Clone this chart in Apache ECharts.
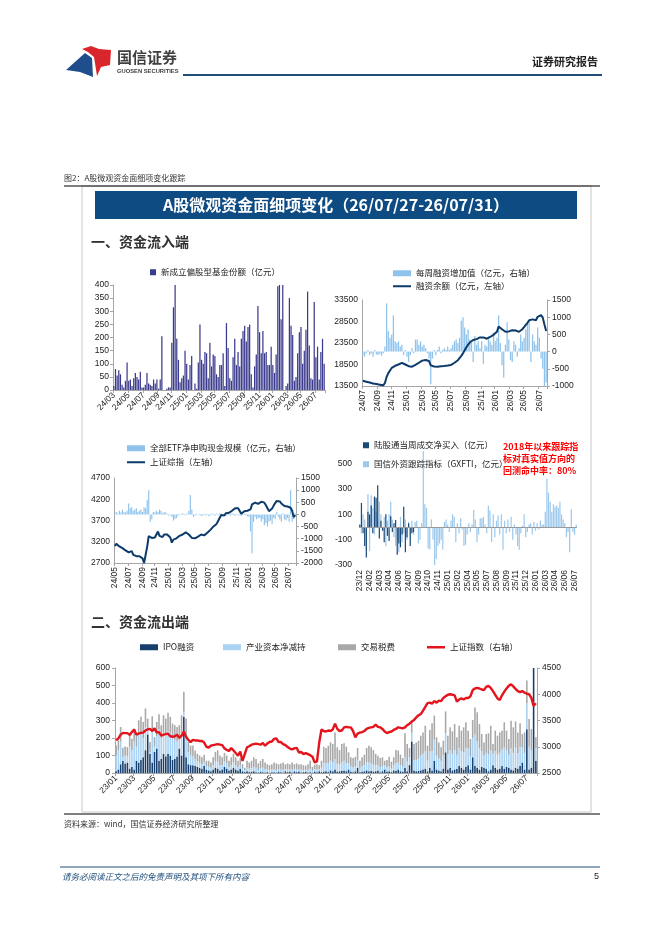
<!DOCTYPE html>
<html>
<head>
<meta charset="utf-8">
<script src="https://cdn.jsdelivr.net/npm/echarts@6/dist/echarts.min.js"></script>
<style>
html, body { margin: 0; padding: 0; background: #fff; }
#main { width: 662px; height: 936px; }
</style>
</head>
<body>
<div id="main"></div>
<script>
// ---------- 数据 ----------
// 新成立偏股型基金份额（亿元），周度，自 2024-03-01
var fundStart = '2024-03-01';
var fundTicks = ['24/03','24/05','24/07','24/09','24/11','25/01','25/03','25/05','25/07','25/09','25/11','26/01','26/03','26/05','26/07'];
var fundNew = [15,80,55,75,60,20,10,35,105, 35,40,15,45,65,50,40,70,10, 10,20,65,25,20,15,40,25,40,
  5,40,205,0,0,5,10,10, 180,315,400,195,115,30,45,55,150, 100,40,95,130,0,25,5,105,250,
  115,100,145,140,45,180,90,135, 130,60,50,95,95,140,15,255,160, 45,35,125,195,95,145,90,195,225,
  245,185,240,250,60,10,90,135,320, 220,140,225,140,145,95,95,165, 95,65,135,395,400,270,400,0,15,
  25,350,245,210,35,50,140,220, 240,100,150,230,375,170,45,40,335, 125,165,40,145,195,100];

// 融资：每周融资增加值（右轴）与融资余额（左轴），周度，自 2024-07-05
var marginStart = '2024-07-05';
var marginTicks = ['24/07','24/09','24/11','25/01','25/03','25/05','25/07','25/09','25/11','26/01','26/03','26/05','26/07'];
var marginChg = [-100,-150,-50,50,-100,-50,-150,50,-80,-100,-60,-120,-50,
  150,1400,600,400,500,1050,300,250,300,150,
  200,-100,50,-150,-300,-100,100,-50,350,350,
  200,300,150,200,100,-50,-200,-950,-200,50,
  -100,50,150,-50,50,100,50,150,50,100,
  200,300,350,250,400,900,1000,700,500,650,
  350,250,-300,450,200,300,100,300,-350,200,
  150,400,300,200,550,300,400,1050,250,-400,
  -750,200,850,350,-250,-300,300,200,-150,100,
  500,300,400,650,800,900,-300,500,300,200,
  700,400,-200,-500,-1000,-900];
var marginBal = [14700,14650,14500,14400,14300,14250,14100,14000,13950,13850,13800,13700,13650,
  14200,15600,16500,17100,17700,18100,18200,18300,18500,18700,
  18900,18800,18500,18200,18100,18050,18000,18200,18400,18600,
  18900,19200,19400,19500,19550,19500,19300,18300,18100,18050,
  18000,18000,18050,18100,18150,18150,18200,18250,18300,18400,
  18600,18900,19200,19500,19900,20500,21100,21800,22500,23100,
  23600,23900,24200,24300,24400,24600,24800,24850,24800,24700,
  24500,24700,24900,25100,25400,25700,26100,27300,27100,26700,
  26400,26100,25900,26200,26500,26450,26400,26400,26250,26100,
  26400,26700,27200,27700,28200,28800,28950,29000,28900,28800,
  29600,30000,30000,29400,27800,26300];

// 全部ETF净申购现金规模（亿元，右轴），周度，自 2024-05-03
var etfStart = '2024-05-03';
var etfTicks = ['24/05','24/07','24/09','24/11','25/01','25/03','25/05','25/07','25/09','25/11','26/01','26/03','26/05','26/07'];
var etfFlow = [50,100,30,150,80,200,100,80,150,
  450,250,300,150,200,250,100,150,200,
  100,300,250,600,1000,
  -300,-200,100,80,150,100,200,150,
  50,100,80,30,-50,20,-100,-250,-200,
  -150,-50,30,-20,50,-30,20,40,
  150,800,200,-100,-50,30,-30,20,-60,
  -40,30,-50,20,-80,-30,40,-20,-50,30,
  -30,50,-40,-20,30,-60,-30,20,-40,50,
  -30,-50,20,-40,30,-60,-20,40,-30,-80,
  -100,-700,-1600,-300,-100,-200,-150,
  -150,-300,-200,-450,-350,-500,-300,-250,-400,-150,-200,100,-100,-200,
  -300,50,-200,-250,-150,-300,1000,-300,-200,50];

// 上证指数，周度，自 2023-01-06
var outStart = '2023-01-06';
var shIndex = [3120,3160,3230,3265, 3260,3260,3225,3280, 3330,3230,3250,3265,3270, 3310,3330,3340,3300,
  3350,3270,3280,3210, 3230,3240,3250,3200,3190, 3200,3230,3170,3210, 3290,3190,3130,3090,
  3130,3120,3120,3110,3110, 3080,3000,2985,3020, 3030,3040,3050,3040, 3030,2970,2940,2920,2975,
  2930,2880,2830,2910, 2730,2860,2990,3010, 3040,3050,3060,3050,3040, 3070,3020,3060,3090,
  3100,3150,3160,3090,3090, 3050,3030,2995,2965, 2950,2970,2980,2890, 2900,2860,2880,2860,2840,
  2810,2700,2720,3080,
  3330,3300,3290,3310,3300,3330,3440,3340,3300,3310,
  3370,3380,3370,3370,3300,3180,3250,3270,3280,3300,
  3340,3360,3370,3380,3420,3380,3370,3340,3290,3260,
  3280,3290,3320,3340,3370,3360,3350,3370,3410,3440,
  3480,3510,3560,3600,3620,3690,3760,3830,3840,3820,
  3870,3840,3880,3870,3930,3960,3990,4000,3990,3980,
  3860,3900,3920,3900,3930,3930,3960,4080,4110,4120,
  4110,4090,4080,4140,4160,4120,4060,3990,3920,3890,
  3980,4050,4110,4160,4190,4150,4100,4060,4040,4060,
  4030,4010,4000,3930,3780,3830];

// 陆股通当周成交净买入 与 国信外资跟踪指标（GXFTI），周度，自 2023-12-01
var gxStart = '2023-12-01';
var gxTicks = ['23/12','24/02','24/03','24/04','24/06','24/07','24/09','24/10','24/11','25/01','25/02','25/04','25/05','25/07','25/08','25/09','25/11','25/12','26/01','26/03','26/04','26/06','26/07'];
var hkNet = [20,190,-50,-150,-240,120,100,170,-50,240,230,330,-90,50,-30,-120,100,-70,-110,85,
  -40,30,55,-220,-130,-160,-60,160,-200,-80,30,-150,-50,-40];
var gxfti = [10,-50,100,60,-180,260,-190,250,150,-60,
  120,60,200,100,-30,80,-150,50,100,200,
  60,-80,-150,-100,-200,80,-120,-50,60,-100,
  40,-80,50,-60,40,50,-130,-100,30,600,
  180,150,-170,-175,60,-100,-300,-250,-150,-130,
  -100,-180,40,60,20,-40,50,100,80,-120,
  30,-50,70,-20,-150,-140,-60,30,-40,20,
  135,60,-120,-60,70,70,80,20,-50,170,
  130,-120,100,-80,50,90,-60,100,-180,50,
  -50,60,-40,80,-100,20,-60,-150,-180,-50,
  10,100,-80,-40,20,30,-60,40,-30,30,
  -20,50,20,20,120,380,270,200,120,180,
  160,170,150,200,100,60,30,-80,-40,-200,
  140,-40,-60,20];

// 资金流出端：IPO融资、产业资本净减持、交易税费（亿元），周度，自 2023-01-06
var outTicks = ['23/01','23/03','23/05','23/07','23/09','23/11','24/01','24/03','24/05','24/07','24/09','24/11','25/01','25/03','25/05','25/07','25/09','25/11','26/01','26/03','26/05','26/07'];
var ipoAmt = [10,20,50,70,55,60,25,35,20,70,60,75,90,130,220,110,60,120,140,70,80,110,95,110,100,75,80,95,140,100,320,90,50,45,
  45,40,35,30,25,40,20,15,10, 20,30,25,15,20,35,25,15,20, 30,20,15,25,10,5,10,5,8, 10,5,3,8,5,3,5,2,5,
  5,3,8,5,3,10,5,8,3, 10,5,8,3,5,8,3,5, 3,8,5,10,
  5,8,10,5,15,10,20,8,10,12, 15,10,20,8,5,10,30,5,8,10, 15,10,12,8,10,15,5,10,20,8,
  10,5,15,12,20,10,8,30,10,45, 180,15,10,12,15,20,25,10,30,15, 70,20,15,10,25,118,20,30,15,20,
  25,40,30,20,35,45,20,90,40,30, 20,35,30,25,10,20,45,30,20,25, 40,25,35,30,20,15,30,25,40,60,
  20,250,20,30,600,70];
var indSell = [90,110,130,20,45,35,125,95,160,80,160,155,110,130,30,10,180,30,70,180,120,120,125,130,130,125,110,85,50,130,30,130,70,55,
  50,40,30,30,25,25,20,20,20, 25,35,40,30,25,30,30,20,25, 30,25,20,20,15,10,20,20,20, 25,25,15,20,25,20,15,15,15,
  15,15,12,15,15,12,15,12,15, 12,15,12,15,12,10,15,20, 10,12,15,12,
  25,50,45,50,55,50,60,45,40,50, 55,45,35,30,30,30,45,25,30,35, 45,50,45,40,35,30,28,30,25,25,
  30,22,30,45,40,35,30,60,55,45, 50,60,65,70,85,90,100,60,95,110, 120,80,70,60,75,110,90,100,95,110,
  80,105,95,100,110,95,75,110,180,150, 120,90,70,90,95,110,65,95,85,90, 95,120,95,75,120,100,115,90,110,85,
  95,150,130,100,80,70];
var taxFee = [57,56,83,54,52,53,71,66,73,65,81,91,92,109,61,57,84,55,82,86,73,100,91,104,91,82,83,83,83,100,115,91,57,57,
  62,49,45,40,40,40,30,35,30, 45,55,65,55,45,50,45,35,45, 50,45,35,40,25,15,40,35,42, 55,50,37,42,50,37,30,28,30,
  40,37,30,35,42,28,35,30,42, 28,35,28,32,28,24,32,45, 23,28,30,23,
  40,92,88,101,105,106,152,94,81,104, 100,95,63,52,51,53,68,40,52,60, 83,96,90,83,64,54,53,50,25,41,
  53,38,45,74,68,60,48,137,101,53, 60,91,100,103,113,122,145,86,121,159, 138,104,90,77,85,124,103,131,128,150,
  99,125,117,141,145,102,99,103,155,167, 140,98,75,108,122,140,56,117,108,117, 107,145,112,89,159,146,150,117,134,78,
  117,128,159,121,90,64];

// ---------- 工具 ----------
function weeks(start, n) {
  var t0 = Date.parse(start + 'T00:00:00Z'), out = [];
  for (var i = 0; i < n; i++) {
    out.push(new Date(t0 + i * 7 * 864e5).toISOString().slice(0, 10));
  }
  return out;
}
function ym(v) { return v.slice(2, 4) + '/' + v.slice(5, 7); }
function monthPicker(cats, ticks) {
  return function (idx, val) {
    var m = ym(val);
    return ticks.indexOf(m) >= 0 && (idx === 0 || ym(cats[idx - 1]) !== m);
  };
}

var FONT = "'Liberation Sans','Noto Sans CJK SC',sans-serif";
var CJK = "'Noto Sans CJK SC','Liberation Sans',sans-serif";
var GRAY = '#a6a6a6';
var LBL = { fontSize: 8.5, color: '#222', fontFamily: FONT };
function plain(v) { return String(v); }

function catAxis(grid, cats, ticks, rotate) {
  var pick = monthPicker(cats, ticks);
  return {
    gridIndex: grid, type: 'category', data: cats, boundaryGap: true,
    axisLine: { show: true, onZero: false, lineStyle: { color: GRAY } },
    axisTick: { show: true, interval: pick, length: 3, lineStyle: { color: GRAY } },
    axisLabel: Object.assign({}, LBL, { interval: pick, rotate: rotate, margin: 4, formatter: ym })
  };
}
function valAxis(grid, min, max, step, pos, extra) {
  return Object.assign({
    gridIndex: grid, type: 'value', min: min, max: max, interval: step, position: pos,
    axisLine: { show: true, lineStyle: { color: GRAY } },
    axisTick: { show: true, length: 3, lineStyle: { color: GRAY } },
    splitLine: { show: false },
    axisLabel: Object.assign({}, LBL, { margin: pos === 'right' ? 5 : 4, formatter: plain })
  }, extra || {});
}
// 刻度起点不是步长整数倍时，用细步长再筛选标签
function stepLabels(base, step) {
  return function (v) { return Math.round(v - base) % step === 0 ? String(v) : ''; };
}
function legendAt(name, left, top, w, h, icon) {
  return { data: [name], left: left, top: top, padding: 0, itemWidth: w, itemHeight: h, icon: icon,
    textStyle: { fontSize: 8.5, color: '#222', fontFamily: CJK } };
}

var fundCats = weeks(fundStart, fundNew.length);
var marginCats = weeks(marginStart, marginChg.length);
var etfCats = weeks(etfStart, etfFlow.length);
var etfIndex = shIndex.slice(shIndex.length - etfFlow.length);
var gxCats = weeks(gxStart, gxfti.length);
var outCats = weeks(outStart, shIndex.length);

var gxAxis = {
  gridIndex: 3, type: 'category', data: gxCats, boundaryGap: true,
  axisLine: { show: false }, axisTick: { show: false },
  axisLabel: Object.assign({}, LBL, { interval: 5, rotate: 90, margin: 5,
    formatter: function (v, i) { return gxTicks[Math.round(i / 6)] || ''; } })
};

// ---------- 页面装饰 ----------
var graphic = [
  { type: 'polygon', shape: { points: [[66, 70], [85, 53], [92, 58], [93, 77], [80, 72]] }, style: { fill: '#1f4e8c' } },
  { type: 'polygon', shape: { points: [[82, 49], [91, 46], [99, 49], [111, 50], [110, 65], [101, 67], [97, 76], [94, 57], [88, 52]] }, style: { fill: '#d9262c' } },
  { type: 'text', x: 117, y: 57, style: { text: '国信证券', font: 'bold 15px ' + CJK, fill: '#404040', textVerticalAlign: 'middle' } },
  { type: 'text', x: 117, y: 71, style: { text: 'GUOSEN SECURITIES', font: 'bold 5.8px ' + FONT, fill: '#404040', textVerticalAlign: 'middle' } },
  { type: 'line', shape: { x1: 183, y1: 75, x2: 602, y2: 75 }, style: { stroke: '#1f4e79', lineWidth: 2 } },
  { type: 'text', x: 598, y: 62, style: { text: '证券研究报告', font: 'bold 11px ' + CJK, fill: '#222', textAlign: 'right', textVerticalAlign: 'middle' } },
  { type: 'text', x: 64, y: 178, style: { text: '图2：A股微观资金面细项变化跟踪', font: '8px ' + CJK, fill: '#333', textVerticalAlign: 'middle' } },
  { type: 'rect', shape: { x: 82, y: 186, width: 509, height: 626 }, style: { fill: 'none', stroke: '#c8c8c8', lineWidth: 1 } },
  { type: 'line', shape: { x1: 64, y1: 186, x2: 600, y2: 186 }, style: { stroke: '#000', lineWidth: 1 } },
  { type: 'rect', shape: { x: 95, y: 191, width: 482, height: 28 }, style: { fill: '#0e4b83' } },
  { type: 'text', x: 336, y: 205, style: { text: 'A股微观资金面细项变化（26/07/27-26/07/31）', font: 'bold 16px ' + CJK, fill: '#fff', textAlign: 'center', textVerticalAlign: 'middle' } },
  { type: 'text', x: 91, y: 242, style: { text: '一、资金流入端', font: 'bold 14px ' + CJK, fill: '#333', textVerticalAlign: 'middle' } },
  { type: 'text', x: 91, y: 622, style: { text: '二、资金流出端', font: 'bold 14px ' + CJK, fill: '#333', textVerticalAlign: 'middle' } },
  { type: 'text', x: 503, y: 447, style: { text: '2018年以来跟踪指', font: 'bold 9px ' + CJK, fill: '#ff0000', textVerticalAlign: 'middle' } },
  { type: 'text', x: 503, y: 459, style: { text: '标对真实值方向的', font: 'bold 9px ' + CJK, fill: '#ff0000', textVerticalAlign: 'middle' } },
  { type: 'text', x: 503, y: 471, style: { text: '回测命中率：80%', font: 'bold 9px ' + CJK, fill: '#ff0000', textVerticalAlign: 'middle' } },
  { type: 'line', shape: { x1: 64, y1: 814, x2: 600, y2: 814 }, style: { stroke: '#000', lineWidth: 1 } },
  { type: 'text', x: 64, y: 824, style: { text: '资料来源：wind，国信证券经济研究所整理', font: '8px ' + CJK, fill: '#333', textVerticalAlign: 'middle' } },
  { type: 'line', shape: { x1: 60, y1: 867, x2: 600, y2: 867 }, style: { stroke: '#1f4e79', lineWidth: 1 } },
  { type: 'text', x: 62, y: 877, style: { text: '请务必阅读正文之后的免责声明及其项下所有内容', font: 'italic 8.5px ' + CJK, fill: '#1f4e79', textVerticalAlign: 'middle' } },
  { type: 'text', x: 599, y: 877, style: { text: '5', font: '9px ' + FONT, fill: '#222', textAlign: 'right', textVerticalAlign: 'middle' } }
];

var chart = echarts.init(document.getElementById('main'));
var option = {
  animation: false,
  backgroundColor: '#fff',
  textStyle: { fontFamily: FONT },
  graphic: graphic,
  grid: [
    { left: 113, top: 285, width: 212, height: 105, outerBoundsMode: 'none' },
    { left: 362, top: 300, width: 185, height: 86, outerBoundsMode: 'none' },
    { left: 114, top: 478, width: 182, height: 85, outerBoundsMode: 'none' },
    { left: 359, top: 451, width: 218, height: 114, outerBoundsMode: 'none' },
    { left: 115, top: 668, width: 422, height: 105, outerBoundsMode: 'none' }
  ],
  legend: [
    legendAt('新成立偏股型基金份额（亿元）', 150, 268, 6, 6, 'rect'),
    legendAt('每周融资增加值（亿元，右轴）', 393, 269, 18, 6, 'rect'),
    legendAt('融资余额（亿元，左轴）', 393, 282, 18, 2, 'rect'),
    legendAt('全部ETF净申购现金规模（亿元，右轴）', 127, 444, 18, 6, 'rect'),
    legendAt('上证综指（左轴）', 127, 458, 18, 2, 'rect'),
    legendAt('陆股通当周成交净买入（亿元）', 363, 441, 6, 6, 'rect'),
    legendAt('国信外资跟踪指标（GXFTI，亿元）', 363, 460, 6, 6, 'rect'),
    legendAt('IPO融资', 140, 643, 18, 6, 'rect'),
    legendAt('产业资本净减持', 223, 643, 18, 6, 'rect'),
    legendAt('交易税费', 338, 643, 18, 6, 'rect'),
    legendAt('上证指数（右轴）', 427, 643, 18, 2.5, 'rect')
  ],
  xAxis: [
    catAxis(0, fundCats, fundTicks, 45),
    catAxis(1, marginCats, marginTicks, 90),
    catAxis(2, etfCats, etfTicks, 90),
    gxAxis,
    catAxis(4, outCats, outTicks, 45)
  ],
  yAxis: [
    valAxis(0, 0, 400, 50, 'left'),
    valAxis(1, 13500, 33500, 500, 'left', { axisTick: { show: false },
      axisLabel: Object.assign({}, LBL, { margin: 4, formatter: stepLabels(13500, 5000) }) }),
    valAxis(1, -1000, 1500, 500, 'right'),
    valAxis(2, 2700, 4700, 100, 'left', { axisTick: { show: false },
      axisLabel: Object.assign({}, LBL, { margin: 4, formatter: stepLabels(2700, 500) }) }),
    valAxis(2, -2000, 1500, 500, 'right'),
    valAxis(3, -300, 600, 100, 'left', { axisLine: { show: false }, axisTick: { show: false },
      axisLabel: Object.assign({}, LBL, { margin: 7, showMaxLabel: false, formatter: stepLabels(-300, 200) }) }),
    valAxis(4, 0, 600, 100, 'left', { axisLabel: Object.assign({}, LBL, { margin: 5, formatter: plain }) }),
    valAxis(4, 2500, 4500, 500, 'right')
  ],
  series: [
    { name: '新成立偏股型基金份额（亿元）', type: 'bar', xAxisIndex: 0, yAxisIndex: 0, data: fundNew,
      barCategoryGap: '25%', itemStyle: { color: '#3b3b8e' } },

    { name: '每周融资增加值（亿元，右轴）', type: 'bar', xAxisIndex: 1, yAxisIndex: 2, data: marginChg,
      barCategoryGap: '25%', itemStyle: { color: '#8fc3ec' } },
    { name: '融资余额（亿元，左轴）', type: 'line', xAxisIndex: 1, yAxisIndex: 1, data: marginBal,
      symbol: 'none', lineStyle: { color: '#0b3a6b', width: 2 }, itemStyle: { color: '#0b3a6b' } },

    { name: '全部ETF净申购现金规模（亿元，右轴）', type: 'bar', xAxisIndex: 2, yAxisIndex: 4, data: etfFlow,
      barCategoryGap: '25%', itemStyle: { color: '#8fc3ec' } },
    { name: '上证综指（左轴）', type: 'line', xAxisIndex: 2, yAxisIndex: 3, data: etfIndex,
      symbol: 'none', lineStyle: { color: '#0b3a6b', width: 2 }, itemStyle: { color: '#0b3a6b' } },

    { name: '国信外资跟踪指标（GXFTI，亿元）', type: 'bar', xAxisIndex: 3, yAxisIndex: 5, data: gxfti,
      barCategoryGap: '25%', barGap: '-100%', itemStyle: { color: '#9dc8ec' },
      markLine: { silent: true, symbol: 'none', label: { show: false },
        lineStyle: { color: '#9a9a9a', type: 'solid', width: 1 }, data: [{ yAxis: 0 }] } },
    { name: '陆股通当周成交净买入（亿元）', type: 'bar', xAxisIndex: 3, yAxisIndex: 5, data: hkNet,
      barCategoryGap: '25%', barGap: '-100%', itemStyle: { color: '#1b4a78' } },

    { name: 'IPO融资', type: 'bar', stack: 'out', xAxisIndex: 4, yAxisIndex: 6, data: ipoAmt,
      barCategoryGap: '30%', itemStyle: { color: '#173f6d' } },
    { name: '产业资本净减持', type: 'bar', stack: 'out', xAxisIndex: 4, yAxisIndex: 6, data: indSell,
      barCategoryGap: '30%', itemStyle: { color: '#a9d2f3' } },
    { name: '交易税费', type: 'bar', stack: 'out', xAxisIndex: 4, yAxisIndex: 6, data: taxFee,
      barCategoryGap: '30%', itemStyle: { color: '#a8a8a8' } },
    { name: '上证指数（右轴）', type: 'line', xAxisIndex: 4, yAxisIndex: 7, data: shIndex,
      symbol: 'none', lineStyle: { color: '#e3141b', width: 2.4 }, itemStyle: { color: '#e3141b' }, z: 5 }
  ]
};
chart.setOption(option);
</script>
</body>
</html>
